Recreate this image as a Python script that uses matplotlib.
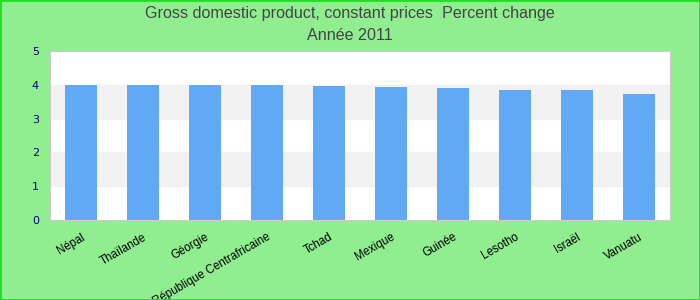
import matplotlib
matplotlib.use('Agg')
import matplotlib.pyplot as plt
import matplotlib.transforms as mtrans
from matplotlib.patches import Rectangle

pays = ['Népal', 'Thaïlande', 'Géorgie', 'République Centrafricaine', 'Tchad',
        'Mexique', 'Guinée', 'Lesotho', 'Israël', 'Vanuatu']
valeurs = [4.0, 4.0, 4.0, 4.0, 3.97, 3.94, 3.91, 3.85, 3.85, 3.73]
yticks = [0, 1, 2, 3, 4, 5]

fig = plt.figure(figsize=(7, 3), dpi=100, facecolor='#90ee90')
fig.patches.append(Rectangle((0, 0), 1, 1, transform=fig.transFigure,
                             fill=False, edgecolor='#22dd22', linewidth=2))
ax = fig.add_axes([50/700, 80/300, 620/700, 169/300])
ax.set_facecolor('white')

# bandes grises alternées
for lo in [1, 3]:
    ax.axhspan(lo, lo + 1, color='#f2f2f2', zorder=0)

x = range(len(pays))
ax.bar(x, valeurs, width=0.52, color='#62a9f5', zorder=2)
ax.set_xlim(-0.5, len(pays) - 0.5)
ax.set_ylim(0, 5)
ax.set_yticks(yticks)
ax.set_yticklabels([str(t) for t in yticks], color='#000080', fontsize=8)
ax.set_xticks(list(x))
ax.set_xticklabels(pays, rotation=30, ha='right', rotation_mode='anchor',
                   fontsize=8.3, family='Liberation Sans')
decal = mtrans.ScaledTranslation(-6/100, 0, fig.dpi_scale_trans)
for lab in ax.get_xticklabels():
    lab.set_transform(lab.get_transform() + decal)
ax.tick_params(length=0, pad=8)
for s in ax.spines.values():
    s.set_color('#cccccc')

fig.text(0.5, 0.955, 'Gross domestic product, constant prices  Percent change',
         ha='center', va='center', fontsize=11.6, color='#444444', family='Liberation Sans')
fig.text(0.5, 0.882, 'Année 2011', ha='center', va='center', fontsize=11.6,
         color='#444444', family='Liberation Sans')

fig.savefig('out.png', dpi=100, facecolor=fig.get_facecolor())
